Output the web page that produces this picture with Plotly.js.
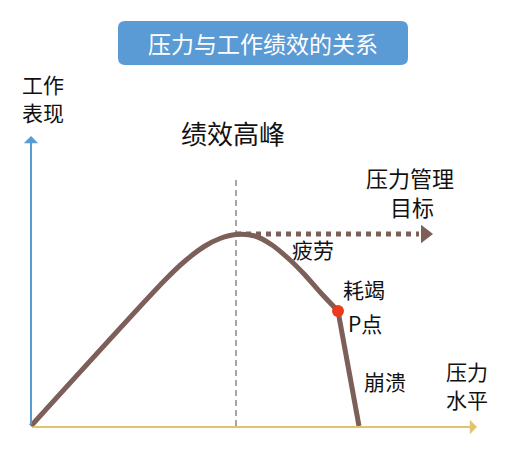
<!DOCTYPE html>
<html>
<head>
<meta charset="utf-8">
<script src="https://cdn.plot.ly/plotly-3.0.1.min.js"></script>
<style>
  html, body { margin: 0; padding: 0; background: #fff; }
  #chart { width: 513px; height: 451px; }
</style>
</head>
<body>
<div id="chart"></div>
<script>
// pressure level vs work performance
const stress = [0, 134, 154, 174, 189, 205, 224, 241, 259, 274, 289, 307, 328];
const performance = [0, 146, 165, 180, 187.5, 191.5, 190, 181, 166, 151, 134, 115, 0];

const peakStress = 205;
const peakPerf = 192;
const pointP = {stress: 307, perf: 115};
const targetEnd = 388;

const titleText = '压力与工作绩效的关系';
const labels = [
  {text: '工作', x: 12, y: 342, size: 21},
  {text: '表现', x: 12, y: 314, size: 21},
  {text: '绩效高峰', x: 202, y: 294, size: 26},
  {text: '压力管理', x: 379, y: 249, size: 22},
  {text: '目标', x: 381, y: 220, size: 22},
  {text: '疲劳', x: 282, y: 177, size: 21},
  {text: '耗竭', x: 333, y: 137, size: 21},
  {text: 'P点', x: 334, y: 103, size: 21},
  {text: '崩溃', x: 354, y: 45, size: 21},
  {text: '压力', x: 436, y: 55, size: 21},
  {text: '水平', x: 436, y: 27, size: 21}
];

const font = '"Noto Sans CJK SC", "Noto Sans", sans-serif';
const brown = '#7d5f5a';

// curve is smooth up to point P, then drops straight down
const iP = stress.indexOf(pointP.stress);

const traces = [
  {
    x: [peakStress, peakStress], y: [0, 248],
    mode: 'lines', line: {color: '#a6a6a6', width: 2, dash: '6px,4px'},
    hoverinfo: 'skip'
  },
  {
    x: [peakStress, targetEnd], y: [peakPerf, peakPerf],
    mode: 'lines', line: {color: brown, width: 5, dash: 'dot'},
    hoverinfo: 'skip'
  },
  {
    x: [targetEnd + 6], y: [peakPerf],
    mode: 'markers', marker: {symbol: 'triangle-right', size: 16, color: brown},
    hoverinfo: 'skip'
  },
  {
    x: stress.slice(0, iP + 1), y: performance.slice(0, iP + 1),
    mode: 'lines', line: {color: brown, width: 5, shape: 'spline', smoothing: 0.8}
  },
  {
    x: stress.slice(iP), y: performance.slice(iP),
    mode: 'lines', line: {color: brown, width: 5}
  },
  {
    x: [pointP.stress], y: [pointP.perf],
    mode: 'markers', marker: {color: '#ee3a1c', size: 12}
  }
];

const r = 7;
const bx0 = 87, bx1 = 377, by0 = 361, by1 = 405;
const boxPath = `M ${bx0 + r} ${by1} L ${bx1 - r} ${by1} Q ${bx1} ${by1} ${bx1} ${by1 - r}` +
  ` L ${bx1} ${by0 + r} Q ${bx1} ${by0} ${bx1 - r} ${by0} L ${bx0 + r} ${by0}` +
  ` Q ${bx0} ${by0} ${bx0} ${by0 + r} L ${bx0} ${by1 - r} Q ${bx0} ${by1} ${bx0 + r} ${by1} Z`;

const annotations = [
  // y axis arrow
  {x: 0, y: 290, ax: 0, ay: 0, xref: 'x', yref: 'y', axref: 'x', ayref: 'y',
   showarrow: true, arrowhead: 1, arrowsize: 1.2, arrowwidth: 2, arrowcolor: '#5b9bd5', text: ''},
  // x axis arrow
  {x: 446, y: -1, ax: 0, ay: -1, xref: 'x', yref: 'y', axref: 'x', ayref: 'y',
   showarrow: true, arrowhead: 1, arrowsize: 1.2, arrowwidth: 2, arrowcolor: '#e2c46e', text: ''},
  {x: 232, y: 383, xref: 'x', yref: 'y', text: titleText, showarrow: false,
   font: {family: font, size: 23, color: '#ffffff'}},
  ...labels.map(l => ({
    x: l.x, y: l.y, xref: 'x', yref: 'y', text: l.text, showarrow: false,
    font: {family: font, size: l.size, color: '#111111'}
  }))
];

const layout = {
  width: 513, height: 451,
  margin: {l: 0, r: 0, t: 0, b: 0},
  paper_bgcolor: '#ffffff', plot_bgcolor: '#ffffff',
  showlegend: false,
  xaxis: {range: [-31, 482], visible: false, fixedrange: true},
  yaxis: {range: [-25, 426], visible: false, fixedrange: true},
  shapes: [
    {type: 'path', xref: 'x', yref: 'y', path: boxPath, fillcolor: '#5b9bd5', line: {width: 0}, layer: 'below'}
  ],
  annotations: annotations
};

Plotly.newPlot('chart', traces, layout, {displayModeBar: false, staticPlot: true});
</script>
</body>
</html>
